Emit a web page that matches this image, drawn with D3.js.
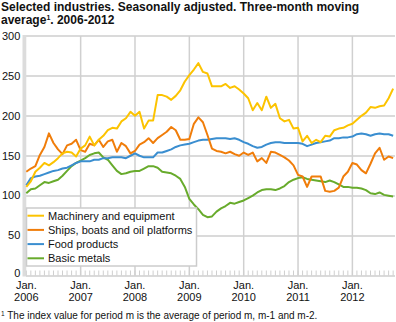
<!DOCTYPE html>
<html>
<head>
<meta charset="utf-8">
<title>Selected industries</title>
<style>
body { margin: 0; background: #fff; font-family: 'Liberation Sans', Arial, sans-serif; }
.grid line { stroke: #dadada; stroke-width: 2px; shape-rendering: crispEdges; }
.vgrid line { stroke: #d0d0d0; stroke-width: 1.5px; }
.tick text { font-size: 11px; fill: #111; }
.series { fill: none; stroke-width: 2px; stroke-linejoin: round; }
</style>
</head>
<body>
<script src="https://d3js.org/d3.v7.min.js"></script>
<script>
'use strict';
// one value per month, Jan. 2006 .. Oct. 2012
const machinery = [111,118,130,135,141,138,142,147,153,155,154,149,159,163,174,163,170,175,182,185,
  184,193,197,205,200,205,184,194,194,226,226,224,220,225,232,243,251,258,266,255,
  253,237,237,237,240,235,237,233,228,222,207,216,207,224,210,215,197,193,195,184,
  185,168,175,166,170,167,175,174,182,184,185,188,190,195,200,204,211,210,212,213,222,234];
const ships = [130,134,137,151,161,178,166,158,152,163,165,170,157,155,165,163,170,161,168,170,
  155,166,162,153,156,164,167,172,166,172,176,180,186,182,170,170,171,190,198,192,
  176,159,156,155,153,155,152,150,154,151,154,143,147,141,155,154,151,148,144,138,
  126,124,111,124,124,124,106,105,106,110,124,130,141,139,132,128,140,153,160,145,149,147];
const food = [113,122,124,125,127,129,131,132,134,135,138,141,143,143,143,145,145,147,147,148,
  148,148,147,150,153,150,148,148,148,154,154,156,158,161,163,164,165,167,169,170,
  170,171,172,172,172,171,172,170,167,165,162,160,161,164,166,167,167,166,166,166,
  166,165,162,164,166,167,168,169,172,172,173,173,174,177,178,177,175,177,178,177,177,175];
const metals = [103,108,109,113,117,116,118,120,125,131,137,141,144,147,151,153,154,148,145,138,
  131,127,128,130,131,131,134,137,137,135,130,129,128,125,121,111,96,89,83,76,
  73,74,80,84,87,91,90,92,94,97,100,104,107,108,108,107,109,112,117,120,
  122,123,121,120,119,118,117,119,117,114,111,111,110,110,109,107,103,102,104,101,100,99];

const seriesNames = ['Machinery and equipment', 'Ships, boats and oil platforms', 'Food products', 'Basic metals'];
const seriesColors = ['#fcc300', '#f07d0a', '#3a8ed0', '#68ab2c'];
const seriesData = [machinery, ships, food, metals];
const yTicks = [0, 50, 100, 150, 200, 250, 300];
const yearLabels = ['2006', '2007', '2008', '2009', '2010', '2011', '2012'];

const W = 396, H = 322;
const x = d3.scaleLinear().domain([0, 81.3]).range([26.3, 394.5]);
const y = d3.scaleLinear().domain([0, 300]).range([275.5, 36]);

const svg = d3.select('body').append('svg')
  .attr('width', W).attr('height', H);

// title
const title = svg.append('text')
  .attr('x', 1).attr('y', 11)
  .style('font-size', '12px').style('font-weight', 'bold').style('fill', '#111');
title.append('tspan').attr('x', 1).attr('y', 11)
  .text('Selected industries. Seasonally adjusted. Three-month moving');
const t2 = title.append('tspan').attr('x', 1).attr('y', 23.5).text('average');
t2.append('tspan').attr('dy', -4).style('font-size', '7px').text('1');
title.append('tspan').attr('dy', 4).text('. 2006-2012');

// horizontal grid
svg.append('g').attr('class', 'grid')
  .selectAll('line').data(yTicks).enter().append('line')
  .attr('x1', x(0)).attr('x2', x(81.3))
  .attr('y1', d => Math.round(y(d))).attr('y2', d => Math.round(y(d)));

// vertical year lines
svg.append('g').attr('class', 'vgrid')
  .selectAll('line').data(d3.range(1, 7)).enter().append('line')
  .attr('x1', d => x(d * 12)).attr('x2', d => x(d * 12))
  .attr('y1', y(300)).attr('y2', y(0));

// y axis band
svg.append('rect')
  .attr('x', x(0) - 3.8).attr('y', y(300) - 1)
  .attr('width', 3.8).attr('height', y(0) - y(300) + 2)
  .attr('fill', '#dcdcdc');

// y axis labels
const yAxis = svg.append('g')
  .attr('transform', 'translate(' + (x(0) - 4) + ',0)')
  .call(d3.axisLeft(y).tickValues(yTicks).tickSize(0).tickPadding(2));
yAxis.select('.domain').remove();
yAxis.selectAll('text').style('font-size', '11px').style('fill', '#111')
  .attr('dy', d => d === 0 ? '0.1em' : '0.3em');

// monthly ticks at the bottom
svg.append('g')
  .selectAll('line').data(d3.range(0, 82)).enter().append('line')
  .attr('x1', d => x(d)).attr('x2', d => x(d))
  .attr('y1', y(0) - 5).attr('y2', y(0))
  .attr('stroke', '#cfcfcf').attr('stroke-width', 1);

// x axis labels
const xl = svg.append('g').selectAll('text').data(yearLabels).enter().append('text')
  .attr('x', (d, i) => x(i * 12))
  .attr('text-anchor', 'middle')
  .style('font-size', '11px').style('fill', '#111');
xl.append('tspan').attr('x', (d, i) => x(i * 12)).attr('y', 289).text('Jan.');
xl.append('tspan').attr('x', (d, i) => x(i * 12)).attr('y', 300.5).text(d => d);

// lines, bottom series drawn first
const line = d3.line().x((d, i) => x(i)).y(d => y(d));
[3, 2, 1, 0].forEach(function(k) {
  svg.append('path')
    .attr('class', 'series')
    .attr('d', line(seriesData[k]))
    .attr('stroke', seriesColors[k]);
});

// legend
const lg = svg.append('g');
lg.append('rect')
  .attr('x', 26.5).attr('y', 208).attr('width', 170).attr('height', 58)
  .attr('fill', '#fff').attr('stroke', '#cccccc').attr('stroke-width', 1.5);
seriesNames.forEach(function(name, i) {
  const yy = 215.7 + i * 14.2;
  lg.append('line')
    .attr('x1', 27.5).attr('x2', 44).attr('y1', yy).attr('y2', yy)
    .attr('stroke', seriesColors[i]).attr('stroke-width', 2);
  lg.append('text')
    .attr('x', 48).attr('y', yy + 4)
    .style('font-size', '11px').style('fill', '#111')
    .text(name);
});

// footnote
const fn = svg.append('text').attr('x', 1).attr('y', 319)
  .style('font-size', '10px').style('fill', '#111');
fn.append('tspan').attr('dy', -3).style('font-size', '6.5px').text('1');
fn.append('tspan').attr('dy', 3).text(' The index value for period m is the average of period m, m-1 and m-2.');
</script>
</body>
</html>
